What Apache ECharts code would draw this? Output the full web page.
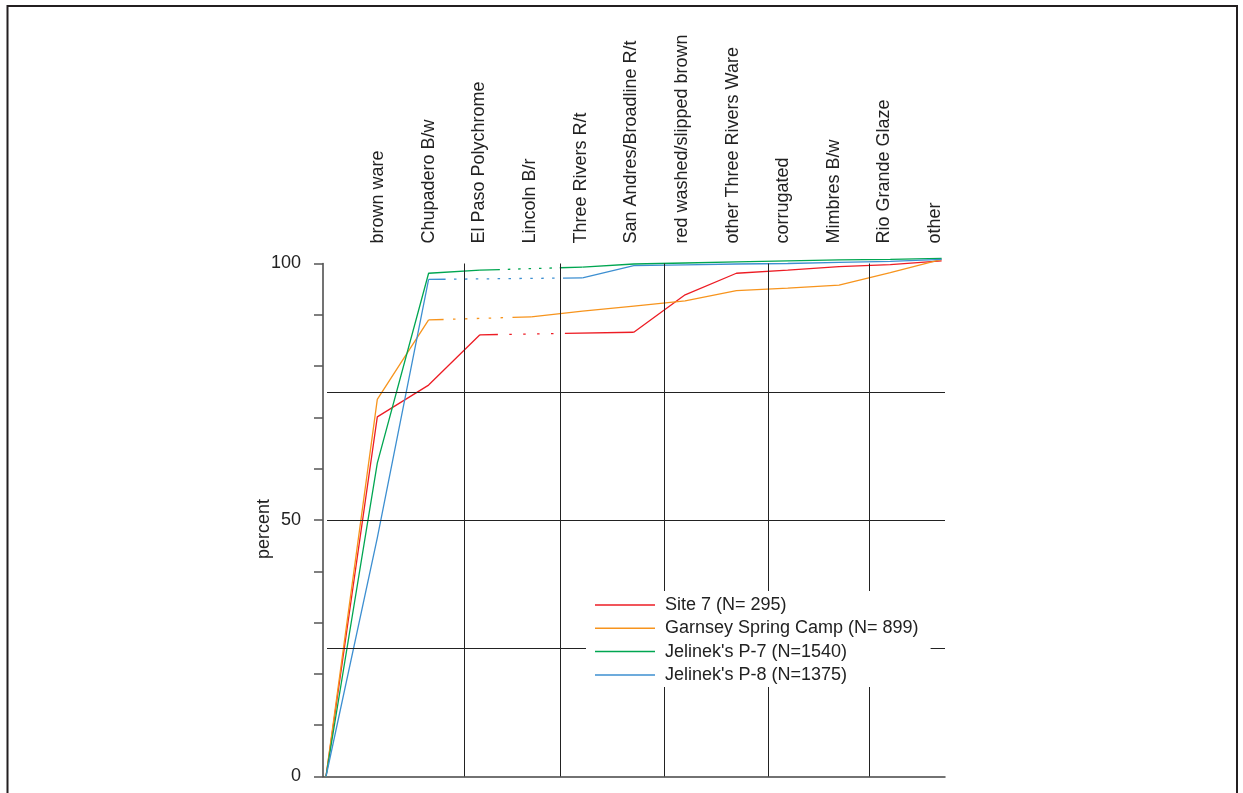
<!DOCTYPE html>
<html><head><meta charset="utf-8">
<script src="https://cdn.jsdelivr.net/npm/echarts@6/dist/echarts.min.js"></script>
<style>html,body{margin:0;padding:0;background:#fff}#c{width:1243px;height:793px}</style>
</head><body><div id="c"></div>
<script>
// ---- data ----
const categories = ['brown ware','Chupadero B/w','El Paso Polychrome','Lincoln B/r','Three Rivers R/t','San Andres/Broadline R/t','red washed/slipped brown','other Three Rivers Ware','corrugated','Mimbres B/w','Rio Grande Glaze','other'];
// index 0 = origin, 1..12 = cumulative percent through each category (null = type absent)
const site7     = [0, 70.1, 76.3, 86.1, null, null, 86.6, 93.9, 98.1, 98.7, 99.4, 99.8, 100.5];
const garnsey   = [0, 73.5, 89.0, null, 89.6, 90.7, 91.7, 92.7, 94.7, 95.2, 95.8, 98.2, 100.8];
const jelinekP7 = [0, 61.1, 98.1, 98.7, null, 99.3, 99.9, 100.1, 100.3, 100.5, 100.7, 100.8, 101.0];
const jelinekP8 = [0, 46.5, 96.9, null, null, 97.2, 99.6, 99.75, 99.9, 100.0, 100.2, 100.4, 100.8];
const seriesNames = ['Site 7 (N= 295)', 'Garnsey Spring Camp (N= 899)', "Jelinek's P-7 (N=1540)", "Jelinek's P-8 (N=1375)"];
const yTickLabels = [0, 50, 100];
const referenceLevels = [25, 50, 75];
const dividerPositions = [2.69, 4.56, 6.59, 8.62, 10.58];

// ---- styling ----
const colors = ['#ed1c24', '#f7941d', '#00a651', '#3d8fd1'];
const dotStyles = [
  {stub: 18, gap: 11.4, dots: 4},
  {stub: 15, gap: 9.4, dots: 5},
  {stub: 20, gap: 7.9, dots: 5},
  {stub: 17, gap: 8.4, dots: 10}
];
function dashArray(s) {
  const a = [s.stub];
  for (let i = 0; i < s.dots; i++) a.push(s.gap, 2.5);
  a.push(s.gap, 1000, 0);
  return a;
}
const X_MIN = -0.0585, X_MAX = 12.066;
const FONT = 'Liberation Sans, Arial, Helvetica, sans-serif';

const allValues = [site7, garnsey, jelinekP7, jelinekP8];
const series = [];
allValues.forEach((vals, k) => {
  series.push({
    name: seriesNames[k], type: 'line', xAxisIndex: 0, symbol: 'none', clip: false,
    connectNulls: false,
    lineStyle: {color: colors[k], width: 1.3}, itemStyle: {color: colors[k]},
    data: vals.map((v, i) => [i, v === null ? '-' : v]),
    z: 3
  });
  // dotted connector across the absent categories
  let i = 0;
  while (i < vals.length) {
    if (vals[i] === null) {
      let j = i; while (vals[j] === null) j++;
      series.push({
        name: seriesNames[k], type: 'line', xAxisIndex: 0, symbol: 'none', clip: false,
        lineStyle: {color: colors[k], width: 1.3, type: dashArray(dotStyles[k])},
        itemStyle: {color: colors[k]},
        data: [[i - 1, vals[i - 1]], [j, vals[j]]],
        z: 3
      });
      i = j;
    } else i++;
  }
});
// reference lines
const refLines = referenceLevels.map(v => [{coord: [0.02, v]}, {coord: [X_MAX, v]}])
  .concat(dividerPositions.map(p => [{coord: [p, 0]}, {coord: [p, 100]}]));
series.push({
  name: 'ref', type: 'line', xAxisIndex: 0, data: [[0, 0]], symbol: 'none',
  lineStyle: {opacity: 0}, clip: false, z: 1,
  markLine: {silent: true, symbol: 'none', animation: false, label: {show: false},
    lineStyle: {color: '#222', width: 1, type: 'solid'}, data: refLines}
});

const chart = echarts.init(document.getElementById('c'), null, {renderer: 'canvas'});
chart.setOption({
  animation: false,
  backgroundColor: '#fff',
  textStyle: {fontFamily: FONT},
  grid: {left: 323, right: 298, top: 263.5, bottom: 16.5, containLabel: false},
  xAxis: [
    {type: 'value', position: 'bottom', min: X_MIN, max: X_MAX,
      axisLine: {show: true, onZero: false, lineStyle: {color: '#444', width: 1.5}},
      axisTick: {show: false}, axisLabel: {show: false}, splitLine: {show: false}},
    {type: 'value', position: 'top', min: -0.086, max: 12.194,
      axisLine: {show: false}, axisTick: {show: false}, splitLine: {show: false},
      axisLabel: {customValues: categories.map((c, i) => i + 1),
        formatter: v => categories[Math.round(v) - 1] || '',
        rotate: 90, margin: 20, fontSize: 18, color: '#222', fontFamily: FONT}}
  ],
  yAxis: {type: 'value', min: 0, max: 100, interval: 10,
    axisLine: {show: true, onZero: false, lineStyle: {color: '#444', width: 1.5}},
    axisTick: {show: true, length: 9, lineStyle: {color: '#555', width: 1.5}},
    axisLabel: {formatter: v => yTickLabels.includes(v) ? String(v) : '', margin: 22, fontSize: 18, color: '#222', fontFamily: FONT},
    splitLine: {show: false},
    name: 'percent', nameLocation: 'middle', nameGap: 50, nameMoveOverlap: false,
    nameTextStyle: {fontSize: 18, color: '#222', fontFamily: FONT, padding: [0, 18, 0, 0]}},
  legend: {data: seriesNames.map(n => ({name: n, icon: 'rect'})), orient: 'vertical', left: 586, top: 591,
    itemWidth: 60, itemHeight: 1.5, itemGap: 5.3, padding: [5, 12, 3, 9],
    backgroundColor: '#fff', z: 10, selectedMode: false,
    textStyle: {fontSize: 18, lineHeight: 18, height: 18, color: '#222', fontFamily: FONT, padding: [0, 0, 0, 5]}},
  graphic: [{type: 'rect', silent: true, z: -10,
    shape: {x: 7.5, y: 6, width: 1229.5, height: 900},
    style: {fill: 'none', stroke: '#231f20', lineWidth: 2}}],
  series: series
});
</script></body></html>
